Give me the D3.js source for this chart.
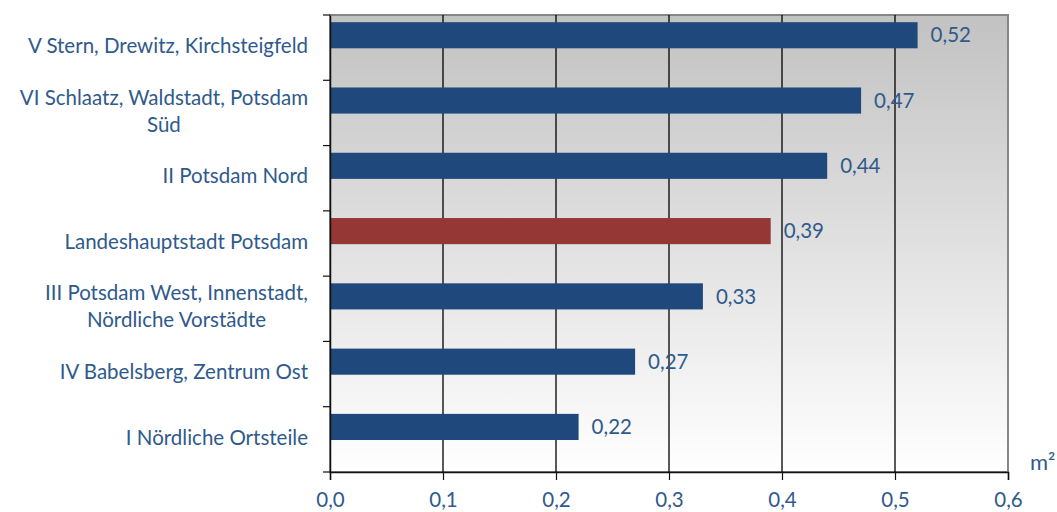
<!DOCTYPE html>
<meta charset="utf-8" />
<title>Potsdam m²</title>
<script src="https://d3js.org/d3.v7.min.js"></script>
<style>
body { margin: 0; background: #fff; }
text { font-family: 'Lato', sans-serif; font-size: 20.5px; fill: #2f5a8c; }
</style>
<div id="chart"></div>
<script>
// data
var categories = [
    ["V Stern, Drewitz, Kirchsteigfeld"],
    ["VI Schlaatz, Waldstadt, Potsdam", "Süd"],
    ["II Potsdam Nord"],
    ["Landeshauptstadt Potsdam"],
    ["III Potsdam West, Innenstadt,", "Nördliche Vorstädte"],
    ["IV Babelsberg, Zentrum Ost"],
    ["I Nördliche Ortsteile"]
];
var values = [0.52, 0.47, 0.44, 0.39, 0.33, 0.27, 0.22];
var highlight = [false, false, false, true, false, false, false];
var xTicks = [0, 0.1, 0.2, 0.3, 0.4, 0.5, 0.6];
var unit = "m²";

var W = 1057, H = 512;
var margin = { top: 15, right: 49, bottom: 40, left: 330 };
var width = W - margin.left - margin.right,
    height = H - margin.top - margin.bottom;

var svg = d3.select("#chart").append("svg")
    .attr("width", W).attr("height", H);

var defs = svg.append("defs");
var grad = defs.append("linearGradient").attr("id", "bg")
    .attr("x1", 0).attr("y1", 0).attr("x2", 0).attr("y2", 1);
grad.append("stop").attr("offset", "0%").attr("stop-color", "#c2c2c2");
grad.append("stop").attr("offset", "100%").attr("stop-color", "#ffffff");

var g = svg.append("g").attr("transform", "translate(" + margin.left + "," + margin.top + ")");

var x = d3.scaleLinear().domain([0, 0.6]).range([0, width]);
var y = d3.scaleBand().domain(d3.range(categories.length)).range([0, height]).padding(0);

// plot area
g.append("rect").attr("width", width).attr("height", height)
    .attr("fill", "url(#bg)").attr("stroke", "#868686").attr("stroke-width", 2);

// gridlines
g.selectAll(".grid").data(xTicks.slice(1, -1)).enter().append("line")
    .attr("x1", d => x(d)).attr("x2", d => x(d))
    .attr("y1", 0).attr("y2", height)
    .attr("stroke", "#000").attr("stroke-width", 1.3);

// bars
g.selectAll(".bar").data(values).enter().append("rect")
    .attr("x", 0)
    .attr("y", (d, i) => y(i) + y.bandwidth() * 0.11)
    .attr("width", d => x(d))
    .attr("height", y.bandwidth() * 0.4)
    .attr("fill", (d, i) => highlight[i] ? "#953735" : "#1f497d");

// value labels
g.selectAll(".val").data(values).enter().append("text")
    .attr("x", d => x(d) + 13)
    .attr("y", (d, i) => y(i) + y.bandwidth() * 0.31)
    .attr("dy", "0.35em")
    .text(d => d3.format(".2f")(d).replace(".", ","));

// y axis
var yAxis = g.append("g")
    .call(d3.axisLeft(y).tickValues([]).tickSizeOuter(0));
yAxis.select(".domain").attr("stroke", "#111").attr("stroke-width", 1.5);
yAxis.selectAll(".tk").data(d3.range(categories.length + 1)).enter().append("line")
    .attr("x1", -7).attr("x2", 0)
    .attr("y1", i => i * y.bandwidth()).attr("y2", i => i * y.bandwidth())
    .attr("stroke", "#111").attr("stroke-width", 1.2);

// category labels
var labels = g.selectAll(".cat").data(categories).enter().append("text")
    .attr("text-anchor", "middle")
    .attr("y", (d, i) => y(i) + y.bandwidth() / 2);
labels.each(function(d) {
    var t = d3.select(this);
    var n = d.length, lh = 27;
    d.forEach(function(line, k) {
        t.append("tspan").attr("y", +t.attr("y") - (n - 1) * lh / 2 + k * lh - 2)
            .attr("dy", "0.35em").text(line);
    });
});
// right-align by first line width, center others under it
labels.each(function() {
    var spans = d3.select(this).selectAll("tspan");
    var w0 = spans.node().getComputedTextLength();
    spans.attr("x", -22 - w0 / 2);
});

// x axis
var xAxis = g.append("g").attr("transform", "translate(0," + height + ")")
    .call(d3.axisBottom(x).tickValues(xTicks).tickSize(8).tickPadding(12)
        .tickFormat(d => d3.format(".1f")(d).replace(".", ",")));
xAxis.select(".domain").attr("stroke", "#111").attr("stroke-width", 1.5);
xAxis.selectAll(".tick line").attr("stroke", "#111").attr("stroke-width", 1.2);
xAxis.selectAll(".tick text").style("font-size", "20.5px").style("font-family", "Lato, sans-serif").attr("fill", "#2f5a8c");

g.append("text").attr("x", width + 22).attr("y", height - 2).style("font-size", "22px").text(unit);
</script>
